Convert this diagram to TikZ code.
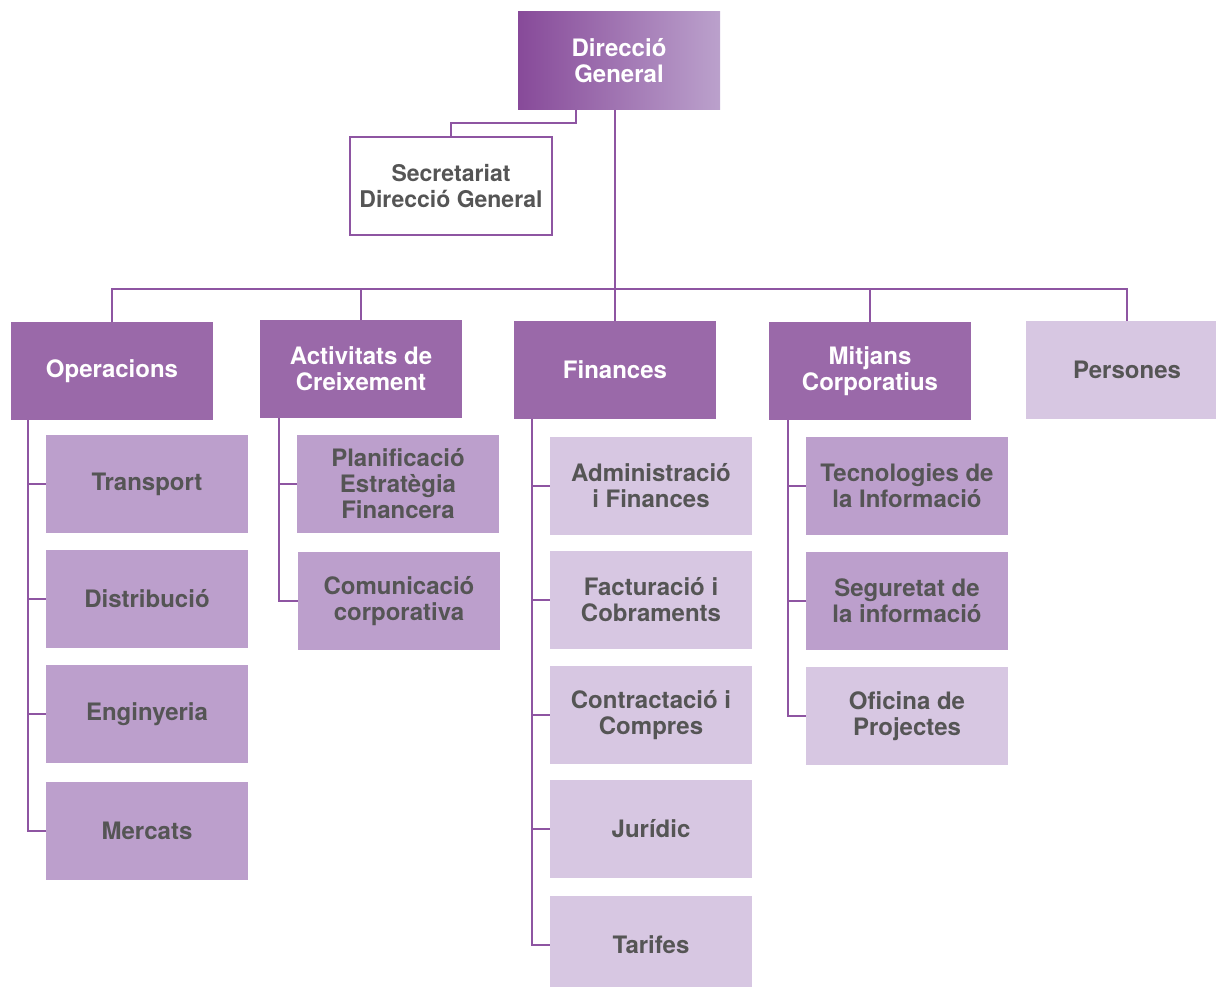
\documentclass[tikz,border=0pt]{standalone}
\usepackage{fontspec}
\setmainfont{TeX Gyre Heros}
\definecolor{cdark}{HTML}{9A69A9}
\definecolor{cmid}{HTML}{BC9FCC}
\definecolor{clight}{HTML}{D7C7E2}
\definecolor{cline}{HTML}{8E55A2}
\definecolor{ctext}{HTML}{555555}
\definecolor{gA}{HTML}{874A99}
\definecolor{gB}{HTML}{BBA1CC}
\tikzset{
  box/.style={anchor=north west, minimum width=202pt, minimum height=98pt, inner sep=0pt, outer sep=0pt, align=center, font=\fontsize{24}{26}\selectfont\bfseries},
  head/.style={box, fill=cdark, text=white},
  midbox/.style={box, fill=cmid, text=ctext},
  lightbox/.style={box, fill=clight, text=ctext},
  conn/.style={draw=cline, line width=2.4pt},
}
\begin{document}
\begin{tikzpicture}[x=1pt,y=1pt]
\useasboundingbox (0,0) rectangle (1216,-987);
\clip (0,0) rectangle (1216,-987);
% top
\node[box, left color=gA, right color=gB, text=white] (dg) at (518,-12) {Direcció\\General};
\node[box, fill=white, draw=cline, line width=2.4pt, text=ctext, font=\fontsize{23}{26}\selectfont\bfseries] (sec) at (350,-137) {Secretariat\\Direcció General};
% level 1
\node[head] (op) at (11,-322) {Operacions};
\node[head] (act) at (260,-320) {Activitats de\\Creixement};
\node[head] (fin) at (514,-321) {Finances};
\node[head] (mit) at (769,-322) {Mitjans\\Corporatius};
\node[lightbox] (per) at (1026,-321) {Persones};
% Operacions children
\node[midbox] (tra) at (46,-435) {Transport};
\node[midbox] (dis) at (46,-550) {Distribució};
\node[midbox] (eng) at (46,-665) {Enginyeria};
\node[midbox] (mer) at (46,-782) {Mercats};
% Activitats children
\node[midbox] (pla) at (297,-435) {Planificació\\Estratègia\\Financera};
\node[midbox] (com) at (298,-552) {Comunicació\\corporativa};
% Finances children
\node[lightbox] (adm) at (550,-437) {Administració\\i Finances};
\node[lightbox] (fac) at (550,-551) {Facturació i\\Cobraments};
\node[lightbox] (con) at (550,-666) {Contractació i\\Compres};
\node[lightbox] (jur) at (550,-780) {Jurídic};
\node[lightbox] (tar) at (550,-896) {Tarifes};
% Mitjans children
\node[midbox] (tec) at (806,-437) {Tecnologies de\\la Informació};
\node[midbox] (seg) at (806,-552) {Seguretat de\\la informació};
\node[lightbox] (ofi) at (806,-667) {Oficina de\\Projectes};
% connectors
\coordinate (bus) at (0,-289);
\draw[conn] ([xshift=-43pt]dg.south) -- ++(0,-13) -| (sec.north);
\draw[conn] (dg.south -| fin.north) -- (fin.north);
\draw[conn] (op.north) -- (op.north |- bus) -- (per.north |- bus) -- (per.north);
\draw[conn] (act.north) -- (act.north |- bus);
\draw[conn] (mit.north) -- (mit.north |- bus);
% children connectors
\coordinate (opx) at ([xshift=17pt]op.south west);
\draw[conn] (opx) |- (mer.west);
\foreach \c in {tra,dis,eng} \draw[conn] (opx |- \c.west) -- (\c.west);
\coordinate (actx) at ([xshift=19pt]act.south west);
\draw[conn] (actx) |- (com.west);
\draw[conn] (actx |- pla.west) -- (pla.west);
\coordinate (finx) at ([xshift=18pt]fin.south west);
\draw[conn] (finx) |- (tar.west);
\foreach \c in {adm,fac,con,jur} \draw[conn] (finx |- \c.west) -- (\c.west);
\coordinate (mitx) at ([xshift=19pt]mit.south west);
\draw[conn] (mitx) |- (ofi.west);
\foreach \c in {tec,seg} \draw[conn] (mitx |- \c.west) -- (\c.west);
\end{tikzpicture}
\end{document}
